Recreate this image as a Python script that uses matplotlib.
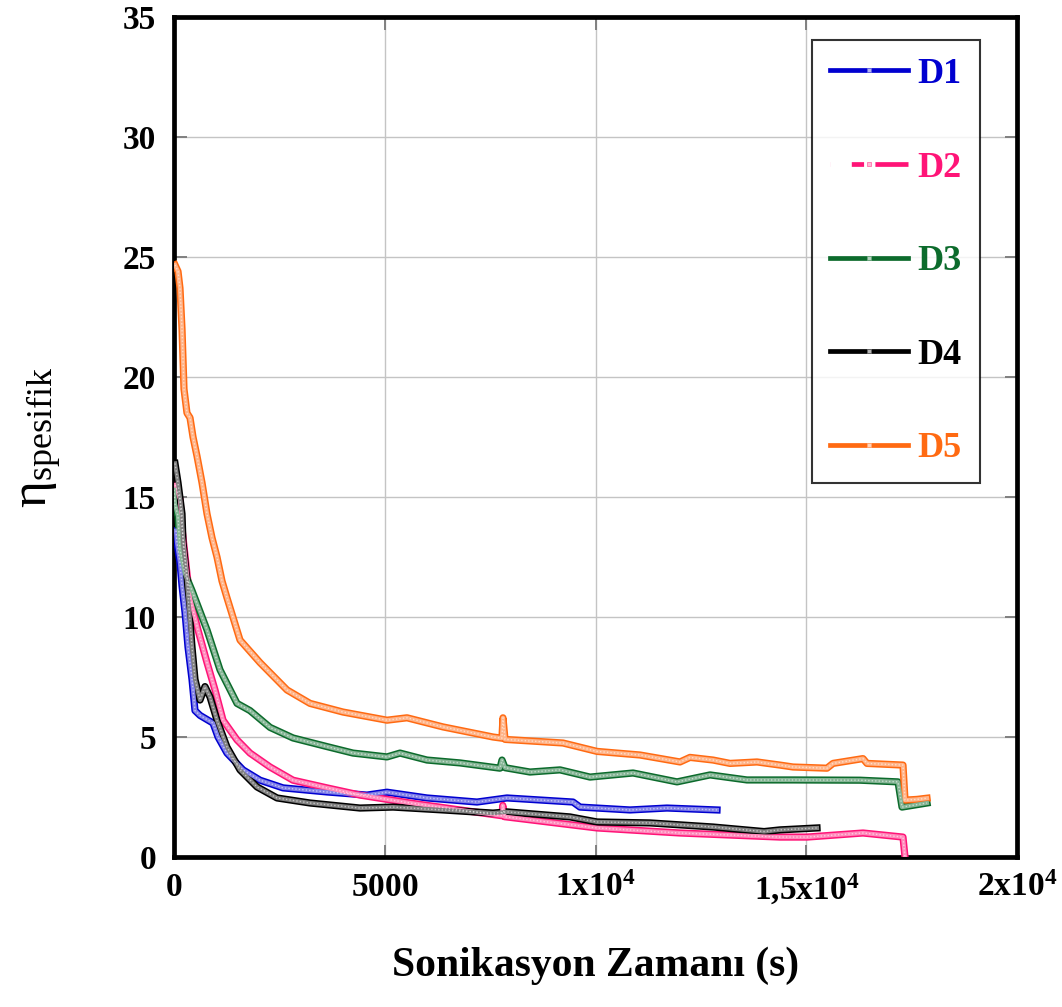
import matplotlib
matplotlib.use("Agg")
import matplotlib.pyplot as plt
from matplotlib.lines import Line2D
import matplotlib.colors as mcolors

plt.rcParams['font.family'] = ['Liberation Serif', 'DejaVu Serif']
plt.rcParams['mathtext.fontset'] = 'custom'
plt.rcParams['mathtext.rm'] = 'Liberation Serif'
plt.rcParams['mathtext.it'] = 'Liberation Serif:italic'
plt.rcParams['mathtext.bf'] = 'Liberation Serif:bold'

# Sonication time (s) and specific viscosity for each sample
d1_t = [47, 71, 142, 190, 261, 332, 427, 498, 617, 925, 1044, 1257, 1637, 2040,
        2586, 3630, 4579, 5053, 6002, 7189, 7900, 9466, 9632, 10819, 11696, 12883]
d1_v = [13.6, 13.1, 12.25, 11.3, 10.2, 8.75, 7.4, 6.1, 5.9, 5.58, 5.0, 4.33, 3.63, 3.2,
        2.88, 2.71, 2.58, 2.7, 2.46, 2.29, 2.46, 2.29, 2.08, 1.96, 2.04, 1.96]

d2_t = [24, 142, 190, 308, 380, 569, 783, 973, 1163, 1495, 1803, 2278, 2823, 3630,
        4413, 5599, 6785, 7780, 7800, 7840, 10036, 12005, 14377, 15017, 16346, 17295, 17343]
d2_v = [15.5, 14.9, 13.7, 11.8, 10.8, 9.46, 8.1, 6.96, 5.7, 4.88, 4.33, 3.75, 3.2, 2.88,
        2.58, 2.25, 1.96, 1.72, 2.15, 1.68, 1.21, 1.0, 0.83, 0.83, 1.0, 0.83, 0.0]

d3_t = [0, 24, 95, 142, 261, 427, 783, 1091, 1495, 1803, 2278, 2823, 3630, 4247,
        5053, 5362, 6002, 6785, 7734, 7782, 7853, 8446, 9158, 9870, 10890, 11934,
        12717, 13594, 14686, 16275, 17177, 17272, 17865]
d3_v = [15.3, 14.7, 14.2, 12.8, 11.8, 11.1, 9.46, 7.8, 6.4, 6.1, 5.4, 4.96, 4.6, 4.33,
        4.17, 4.33, 4.04, 3.92, 3.7, 4.04, 3.72, 3.54, 3.63, 3.33, 3.5, 3.13,
        3.42, 3.21, 3.21, 3.2, 3.13, 2.08, 2.25]

d4_t = [24, 95, 190, 214, 308, 427, 498, 617, 735, 854, 1020, 1257, 1566, 1969,
        2444, 3227, 4413, 5196, 6382, 7568, 7900, 9395, 10036, 11293, 12788, 14000,
        14377, 15255]
d4_v = [16.4, 15.6, 14.3, 13.1, 11.5, 8.75, 7.4, 6.54, 7.1, 6.67, 5.7, 4.58, 3.63, 2.92,
        2.46, 2.25, 2.04, 2.08, 1.96, 1.83, 1.88, 1.67, 1.46, 1.42, 1.25, 1.06,
        1.13, 1.21]

d5_t = [24, 95, 142, 190, 237, 308, 380, 451, 546, 664, 783, 902, 1020, 1139, 1257,
        1566, 2040, 2681, 3227, 4009, 5053, 5528, 6382, 7568, 7780, 7805, 7853, 9229,
        10036, 11056, 12005, 12242, 12788, 13191, 13832, 14377, 14686, 15492, 15635,
        16346, 16441, 17295, 17343, 17628, 17865]
d5_v = [24.67, 24.4, 23.7, 22.0, 19.5, 18.5, 18.3, 17.5, 16.7, 15.6, 14.3, 13.3, 12.5,
        11.5, 10.8, 9.04, 8.1, 6.96, 6.4, 6.04, 5.7, 5.8, 5.42, 5.0, 4.95, 5.8, 4.9,
        4.75, 4.4, 4.25, 3.96, 4.15, 4.04, 3.9, 3.96, 3.83, 3.75, 3.7, 3.9, 4.1, 3.9,
        3.83, 2.37, 2.4, 2.45]

labels = ['D1', 'D2', 'D3', 'D4', 'D5']
colors = ['#0000d0', '#ff1477', '#0c6b2c', '#000000', '#ff6a12']
series = [(d1_t, d1_v), (d2_t, d2_v), (d3_t, d3_v), (d4_t, d4_v), (d5_t, d5_v)]

x_ticks = [0, 5000, 10000, 15000, 20000]
x_ticklabels = [r'$\mathbf{0}$', r'$\mathbf{5000}$', r'$\mathbf{1x10^{4}}$',
                r'$\mathbf{1{,}5x10^{4}}$', r'$\mathbf{2x10^{4}}$']
y_ticks = [0, 5, 10, 15, 20, 25, 30, 35]

fig = plt.figure(figsize=(10.62, 10.07), dpi=100)
ax = fig.add_axes([174 / 1062, 1 - 857 / 1007, (1017 - 174) / 1062, (857 - 17) / 1007])


def lighten(c, f):
    r, g, b = mcolors.to_rgb(c)
    return (r + (1 - r) * f, g + (1 - g) * f, b + (1 - b) * f)


# Thick coloured band with a pale, speckled core
for (t, v), c in zip(series, colors):
    ax.plot(t, v, color=c, lw=5.2, zorder=3)
    ax.plot(t, v, color=lighten(c, 0.5), lw=3.0, zorder=4)
    ax.plot(t, v, color='white', lw=1.0, ls=(0, (1, 1.5)), alpha=0.55, zorder=5)

ax.set_xlim(0, 20000)
ax.set_ylim(0, 35)
ax.set_xticks(x_ticks)
ax.set_xticklabels(x_ticklabels)
ax.set_yticks(y_ticks)
ax.set_yticklabels([str(v) for v in y_ticks], fontweight='bold')

ax.grid(True, color='#c4c4c4', lw=1.0, zorder=0)
ax.tick_params(direction='in', length=9, width=1.4, color='#808080',
               top=True, right=True, labelsize=24, pad=11)
ax.tick_params(axis='y', pad=13)
for s in ax.spines.values():
    s.set_linewidth(3.4)
    s.set_color('black')

ax.set_xlabel('Sonikasyon Zamanı (s)', fontsize=30, fontweight='bold', labelpad=28)
ax.set_ylabel(r'$\mathrm{\eta}_{\mathrm{spesifik}}$', fontsize=37, labelpad=42)

handles = []
for lab, c in zip(labels, colors):
    ls = (0, (0.01, 4.5, 2.6, 2.4, 14, 0)) if lab == 'D2' else '-'
    handles.append(Line2D([0], [0], color=c, lw=3.4, ls=ls, marker='s', ms=3,
                          mfc=lighten(c, 0.7), mec=lighten(c, 0.4), mew=0.6))
leg = ax.legend(handles, labels, loc='upper right', bbox_to_anchor=(0.956, 0.973),
                prop={'weight': 'bold', 'size': 26},
                labelcolor=colors, frameon=True, fancybox=False,
                edgecolor='black', labelspacing=1.67, handlelength=2.15,
                handletextpad=0.27, borderpad=0.5, borderaxespad=0, numpoints=1)
leg.get_frame().set_linewidth(1.5)
leg.set_zorder(10)

fig.savefig('out.png', dpi=100)
